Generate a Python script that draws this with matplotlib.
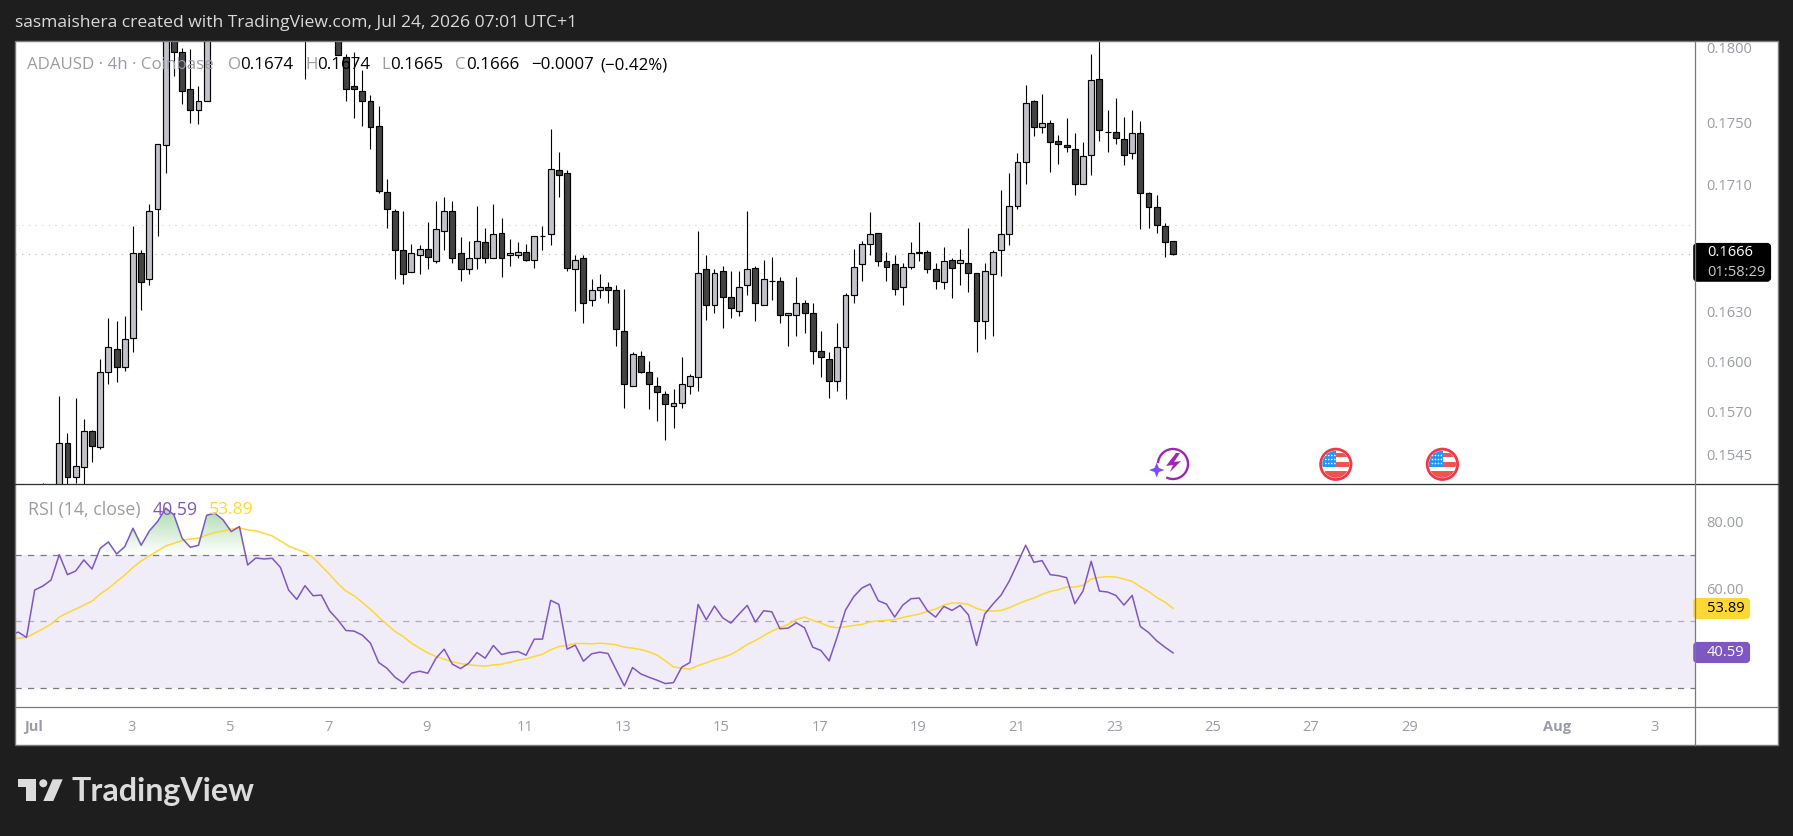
import numpy as np
import matplotlib
matplotlib.use('Agg')
import matplotlib.pyplot as plt
from matplotlib.colors import LinearSegmentedColormap
from matplotlib.patches import Circle, FancyBboxPatch, Polygon, Rectangle
from matplotlib.path import Path

plt.rcParams['font.family'] = ['Open Sans', 'DejaVu Sans']

# 4h candles, index 0 = Jul 1 (22..36 sit above the visible range, estimated)
opens = [.15050,.15100,.15150,.15207,.15514,.15322,.15375,.15584,.15491,.15933,
         .16071,.15967,.16138,.16661,.16499,.16938,.17350,.18185,.17966,.17719,
         .17580,.17639,.18160,.18250,.18150,.18200,.18340,.18230,.18180,.18250,
         .18190,.18140,.18220,.18160,.18220,.18150,.18190,.18170,.17933,.17739,
         .17706,.17639,.17474,.17047,.16926,.16680,.16546,.16648,.16686,.16615,
         .16799,.16926,.16661,.16561,.16634,.16730,.16634,.16786,.16648,.16648,
         .16667,.16617,.16767,.16780,.17188,.17169,.16561,.16629,.16370,.16431,
         .16450,.16431,.16180,.15850,.16029,.15933,.15850,.15802,.15731,.15749,
         .15850,.15903,.16561,.16339,.16549,.16388,.16302,.16462,.16567,.16339,
         .16489,.16487,.16278,.16278,.16351,.16290,.16059,.16011,.15880,.16083,
         .16400,.16592,.16717,.16786,.16611,.16592,.16450,.16579,.16661,.16667,
         .16561,.16481,.16617,.16598,.16598,.16536,.16241,.16530,.16680,.16780,
         .16958,.17240,.17639,.17468,.17494,.17376,.17350,.17324,.17098,.17285,
         .17785,.17437,.17435,.17389,.17298,.17428,.17040,.16951,.16835,.1674]
highs = [.15200,.15283,.15240,.15792,.15573,.15778,.15657,.15592,.16011,.16259,
         .16243,.16274,.16832,.16682,.16972,.17357,.18230,.18250,.17993,.17989,
         .17741,.18220,.18300,.18320,.18260,.18380,.18400,.18330,.18290,.18350,
         .18300,.18260,.18330,.18280,.18300,.18250,.18300,.18240,.17953,.17968,
         .17848,.17679,.17606,.17132,.16941,.16926,.16719,.16713,.16858,.16991,
         .17017,.16991,.16763,.16738,.16960,.16820,.16972,.16883,.16751,.16732,
         .16719,.16767,.16832,.17457,.17307,.17188,.16650,.16650,.16501,.16532,
         .16483,.16462,.16439,.16053,.16061,.16001,.15905,.15822,.15834,.16025,
         .15921,.16801,.16650,.16563,.16582,.16551,.16551,.16928,.16580,.16619,
         .16638,.16514,.16295,.16514,.16372,.16353,.16182,.16055,.16231,.16415,
         .16688,.16738,.16922,.16790,.16669,.16650,.16600,.16732,.16858,.16682,
         .16600,.16700,.16632,.16688,.16820,.16540,.16600,.16682,.17062,.17171,
         .17300,.17748,.17645,.17688,.17516,.17417,.17529,.17430,.17372,.17955,
         .18080,.17582,.17661,.17536,.17582,.17509,.17047,.17030,.16852,.1674]
lows = [.14950,.15000,.15000,.15150,.15207,.15287,.15250,.15406,.15483,.15864,
        .15876,.15941,.16055,.16310,.16464,.16769,.17171,.17808,.17622,.17496,
        .17490,.17639,.18100,.18120,.18090,.18120,.18180,.18110,.18090,.18150,
        .18100,.18080,.18120,.17785,.18110,.18070,.18110,.17946,.17644,.17529,
        .17476,.17326,.17043,.16820,.16501,.16470,.16546,.16532,.16563,.16602,
        .16682,.16602,.16489,.16532,.16563,.16602,.16634,.16514,.16582,.16632,
        .16615,.16569,.16682,.16713,.17017,.16553,.16304,.16231,.16335,.16384,
        .16351,.16091,.15721,.15850,.15927,.15715,.15645,.15534,.15604,.15721,
        .15804,.15822,.16249,.16290,.16200,.16261,.16274,.16402,.16243,.16339,
        .16372,.16231,.16091,.16152,.16170,.15983,.15905,.15780,.15822,.15774,
        .16353,.16489,.16650,.16582,.16489,.16402,.16341,.16563,.16613,.16538,
        .16439,.16439,.16384,.16464,.16421,.16055,.16134,.16152,.16520,.16713,
        .16941,.17100,.17411,.17430,.17177,.17229,.17307,.17030,.17098,.17158,
        .17378,.17307,.17359,.17222,.17261,.16813,.16820,.16788,.16638,.1665]
closes = [.15100,.15180,.15200,.15514,.15322,.15381,.15584,.15501,.15933,.16083,
          .15967,.16132,.16661,.16485,.16926,.17357,.18185,.17966,.17705,.17580,
          .17639,.18160,.18250,.18150,.18200,.18340,.18230,.18180,.18250,.18190,
          .18140,.18220,.18160,.18220,.18150,.18190,.18170,.17946,.17723,.17719,
          .17644,.17472,.17057,.16938,.16684,.16534,.16661,.16686,.16636,.16811,
          .16926,.16634,.16561,.16629,.16736,.16634,.16780,.16634,.16661,.16667,
          .16617,.16767,.16769,.17194,.17156,.16567,.16617,.16351,.16431,.16450,
          .16431,.16192,.15862,.16042,.15933,.15862,.15814,.15743,.15749,.15862,
          .15909,.16536,.16339,.16536,.16388,.16321,.16450,.16561,.16351,.16499,
          .16487,.16278,.16290,.16351,.16290,.16059,.16023,.15880,.16083,.16400,
          .16579,.16717,.16780,.16611,.16579,.16437,.16579,.16661,.16667,.16561,
          .16487,.16611,.16567,.16617,.16536,.16241,.16549,.16667,.16780,.16958,
          .17240,.17626,.17468,.17494,.17370,.17357,.17337,.17098,.17279,.17779,
          .17448,.17435,.17396,.17285,.17428,.17040,.16951,.16837,.16730,.1666]

# RSI and its moving average, starting three bars before index 0
rsi = [46.0,46.8,45.2,59.4,60.6,62.4,70.0,64.0,65.1,68.4,65.7,71.9,73.8,70.2,72.4,
       77.9,72.8,77.1,79.9,83.9,81.9,74.9,72.2,72.8,81.8,82.4,80.4,76.9,78.4,66.9,
       69.0,68.7,68.9,66.2,59.4,56.6,60.7,57.7,57.9,53.2,50.5,47.3,47.1,45.9,43.5,
       37.7,36.0,33.3,31.6,34.5,35.1,34.5,39.0,41.7,37.2,35.9,37.5,40.7,39.0,42.8,
       40.1,40.7,41.0,39.9,44.7,44.7,56.3,55.1,41.7,42.9,38.1,40.3,40.8,40.4,35.5,
       30.7,36.2,34.3,33.3,32.4,31.4,31.7,36.3,37.7,55.1,50.5,54.6,51.1,49.5,52.2,
       54.8,49.8,53.2,52.9,47.8,48.0,49.6,48.1,42.3,41.3,38.2,45.5,53.4,57.4,60.0,
       61.2,56.2,55.2,51.3,54.9,56.8,57.0,53.2,51.3,54.5,53.3,54.8,52.0,42.8,52.2,
       55.2,57.9,62.1,67.4,72.8,67.7,68.2,64.0,63.7,63.1,55.3,59.1,68.0,59.1,58.8,
       57.8,54.9,57.8,48.5,46.7,44.2,42.3,40.59]
rsi_ma = [45.0,45.0,45.2,46.5,47.8,49.2,51.3,52.6,53.7,54.9,56.1,58.2,59.9,61.9,63.9,
          66.2,68.1,69.6,71.1,72.6,73.4,74.2,74.7,74.9,75.9,76.6,77.1,77.6,78.0,77.4,
          77.1,76.4,75.6,74.1,72.6,71.6,70.7,69.1,66.6,64.1,61.4,59.1,57.7,55.7,53.6,
          51.3,49.1,47.0,45.5,43.5,42.0,40.6,39.5,38.7,37.9,37.4,37.0,36.8,36.6,37.0,
          37.2,37.8,38.4,38.8,39.5,40.2,41.5,42.5,42.8,43.4,43.4,43.3,43.5,43.3,43.0,
          42.3,42.0,41.6,40.9,39.9,38.2,36.4,36.0,35.7,36.8,37.6,38.5,39.2,40.1,41.5,
          43.1,44.3,45.7,47.1,48.2,49.1,50.6,51.3,50.3,49.5,48.5,48.1,48.4,48.8,49.1,
          49.9,50.2,50.3,50.6,51.2,51.7,52.2,53.0,53.7,54.9,55.5,55.5,55.1,53.9,53.2,
          53.1,53.3,54.1,55.2,56.2,57.0,58.1,59.0,59.5,60.3,60.3,60.8,62.7,63.2,63.4,
          63.3,62.7,62.0,60.4,59.0,57.2,55.8,53.89]

price_ticks = [0.1545, 0.1570, 0.1600, 0.1630, 0.1670, 0.1710, 0.1750, 0.1800]
rsi_ticks = [60, 80]
day_ticks = [1, 3, 5, 7, 9, 11, 13, 15, 17, 19, 21, 23, 25, 27, 29, 32, 34]
day_labels = ['Jul', '3', '5', '7', '9', '11', '13', '15', '17', '19', '21', '23',
              '25', '27', '29', 'Aug', '3']
last_price = 0.1666
prev_level = 0.1684

W, H = 1793, 836
BG = '#1e1e1e'
GREY = '#9a9ca6'
UP = '#c2c2ca'
DOWN = '#434343'
PURPLE = '#7e57c2'
YELLOW = '#fdd835'
LEFT, RIGHT, TOP, MID, BOT, END = 15, 1694.8, 41, 484.3, 707.3, 745.3
FAR = 1778


def box(x0, y0, x1, y1):
    return [x0 / W, 1 - y1 / H, (x1 - x0) / W, (y1 - y0) / H]


fig = plt.figure(figsize=(W / 100, H / 100), dpi=100, facecolor=BG)

under = fig.add_axes([0, 0, 1, 1], zorder=0)
under.set_xlim(0, W)
under.set_ylim(H, 0)
under.axis('off')
under.add_patch(Rectangle((LEFT, TOP), FAR - LEFT, END - TOP, fc='white', ec='none'))

# bar index <-> day mapping: 8.19 px per bar, bar 0 at x=34.7
xlim = (-2.405, 202.7)
tick_pos = [(d - 1) * 5.998 - 0.116 for d in day_ticks]

# price pane
ax = fig.add_axes(box(LEFT, TOP, RIGHT, MID), zorder=1)
ax.patch.set_alpha(0)
ax.set_yscale('log')
x = np.arange(len(opens))
o, h, l, c = map(np.array, (opens, highs, lows, closes))
ax.axhline(prev_level, color='#e6d96a', lw=0.8, ls=(0, (1, 5)), zorder=1)
ax.axhline(last_price, color='#b5b5b5', lw=0.8, ls=(0, (1, 5)), zorder=1)
ax.vlines(x, l, h, color='black', lw=0.8, zorder=2)
colors = [UP if b >= a else DOWN for a, b in zip(o, c)]
ax.bar(x, np.abs(c - o), bottom=np.minimum(o, c), width=0.72, color=colors,
       edgecolor='black', linewidth=0.85, zorder=3)
ax.set_xlim(*xlim)
ax.set_ylim(0.15278, 0.18043)
ax.set_xticks([])
ax.yaxis.tick_right()
ax.set_yticks(price_ticks)
ax.set_yticklabels([f'{t:.4f}' for t in price_ticks])
ax.minorticks_off()
ax.tick_params(axis='y', which='both', length=0, pad=8.5, labelsize=10.5, labelcolor=GREY)
for s in ax.spines.values():
    s.set_visible(False)

# RSI pane
ax2 = fig.add_axes(box(LEFT, MID, RIGHT, BOT), zorder=1)
ax2.patch.set_alpha(0)
xr = np.arange(len(rsi)) - 3
r = np.array(rsi)
ax2.axhspan(30, 70, color=PURPLE, alpha=0.1, lw=0, zorder=1)
ax2.axhline(70, color='#787b86', lw=0.9, ls=(0, (5, 5)), zorder=2)
ax2.axhline(50, color='#787b86', lw=0.9, ls=(0, (5, 5)), alpha=0.55, zorder=2)
ax2.axhline(30, color='#787b86', lw=0.9, ls=(0, (5, 5)), zorder=2)
# green fade above the 70 line
region = ax2.fill_between(xr, 70, r, where=r > 70, interpolate=True, facecolor='none', lw=0)
green = LinearSegmentedColormap.from_list('fade', [(0.3, 0.69, 0.31, 0.0), (0.3, 0.69, 0.31, 0.5)])
im = ax2.imshow(np.linspace(1, 0, 64).reshape(-1, 1), cmap=green, aspect='auto', zorder=2,
                extent=(xlim[0], xlim[1], 70, 85), vmin=0, vmax=1)
im.set_clip_path(Path.make_compound_path(*region.get_paths()), transform=ax2.transData)
ax2.plot(xr, rsi_ma, color=YELLOW, lw=1.1, zorder=3)
ax2.plot(xr, r, color=PURPLE, lw=1.1, zorder=4)
ax2.set_xlim(*xlim)
ax2.set_ylim(24.3, 91.05)
ax2.yaxis.tick_right()
ax2.set_yticks(rsi_ticks)
ax2.set_yticklabels([f'{t:.2f}' for t in rsi_ticks])
ax2.set_xticks(tick_pos)
ax2.set_xticklabels(day_labels)
ax2.tick_params(axis='y', length=0, pad=8.5, labelsize=10.5, labelcolor=GREY)
ax2.tick_params(axis='x', length=0, pad=9, labelsize=10.5, labelcolor=GREY)
for lab in ax2.get_xticklabels():
    if lab.get_text() in ('Jul', 'Aug'):
        lab.set_fontweight('bold')
for s in ax2.spines.values():
    s.set_visible(False)

# frame, tags, legends, icons on top, in pixel coordinates
top = fig.add_axes([0, 0, 1, 1], zorder=5)
top.set_xlim(0, W)
top.set_ylim(H, 0)
top.axis('off')
top.patch.set_alpha(0)
top.add_patch(Rectangle((LEFT, TOP), FAR - LEFT, END - TOP, fc='none', ec='#7a7a7a', lw=1))
top.plot([LEFT, FAR], [MID, MID], color='#2a2e39', lw=0.9)
top.plot([LEFT, FAR], [BOT, BOT], color='#7a7a7a', lw=0.9)
top.plot([RIGHT, RIGHT], [TOP, END], color='#7a7a7a', lw=0.9)

top.text(14.7, 23, 'sasmaishera created with TradingView.com, Jul 24, 2026 07:01 UTC+1',
         color='#d9d9d9', fontsize=12.6, va='center')

# OHLC legend row
legend_row = [(27, 'ADAUSD · 4h · Coinbase', GREY), (227.7, 'O', GREY), (240, '0.1674', 'black'),
              (305, 'H', GREY), (316.7, '0.1674', 'black'), (381, 'L', GREY), (390, '0.1665', 'black'),
              (455, 'C', GREY), (466, '0.1666', 'black'), (530.7, '−0.0007', 'black'),
              (600, '(−0.42%)', 'black')]
for px, s, col in legend_row:
    top.text(px, 65, s, color=col, fontsize=12.2, va='center')

top.text(27.5, 510, 'RSI (14, close)', color=GREY, fontsize=12.8, va='center')
top.text(153, 510, '40.59', color=PURPLE, fontsize=12.8, va='center')
top.text(208.6, 510, '53.89', color=YELLOW, fontsize=12.6, va='center')


def tag(y0, y1, x1, col):
    top.add_patch(FancyBboxPatch((RIGHT + 0.5, y0 + 2), x1 - RIGHT - 2.5, y1 - y0 - 4,
                                 boxstyle='round,pad=0,rounding_size=2', mutation_aspect=1,
                                 fc=col, ec=col, lw=3))


tag(243, 281.7, 1771, 'black')
top.text(1707, 253, '0.1666', color='white', fontsize=10.5, va='center')
top.text(1707, 272, '01:58:29', color='#c8c8c8', fontsize=10.5, va='center')
tag(598, 619, 1750, YELLOW)
top.text(1707, 608.5, '53.89', color='black', fontsize=10.5, va='center')
tag(642, 663, 1750, PURPLE)
top.text(1707, 652.5, '40.59', color='white', fontsize=10.5, va='center')

# lightning icon with the star in the ring's gap
cx, cy = 1173, 464
ang = np.radians(np.linspace(-112, 172, 120))
top.plot(cx + 15 * np.cos(ang), cy - 15 * np.sin(ang), color='#9c27b0', lw=1.7)
top.add_patch(Polygon([(cx + 3, cy - 11), (cx - 7, cy + 2), (cx, cy + 1), (cx - 3, cy + 8),
                       (cx + 8, cy - 3), (cx + 1, cy - 2), (cx + 7, cy - 11)], fc='#9c27b0', ec='none'))
top.add_patch(Polygon([(1149, 470), (1154.5, 468), (1156.7, 462.5), (1158.9, 468), (1164.5, 470),
                       (1158.9, 472), (1156.7, 477.5), (1154.5, 472)], fc='#7c4dff', ec='none'))

# US flag markers
for cx in (1335.8, 1442.4):
    disc = Circle((cx, 464.3), 13.5, transform=top.transData)
    top.add_patch(Circle((cx, 464.3), 15.2, fc='white', ec='#f23645', lw=2))
    for y0, hh in ((453, 4), (462, 5), (471, 8)):
        p = Rectangle((cx - 11, y0), 26, hh, fc='#f05350', ec='none')
        top.add_patch(p)
        p.set_clip_path(disc)
    p = Rectangle((cx - 14, 451), 14.5, 16, fc='#2196f3', ec='none')
    top.add_patch(p)
    p.set_clip_path(disc)
    for row in range(3):
        for col in range(4):
            top.add_patch(Circle((cx - 10 + col * 3, 455.5 + row * 4), 0.8, fc='white', ec='none'))

# watermark
LOGO = '#dcdcdc'
top.add_patch(Polygon([(18, 779.3), (35.7, 779.3), (35.7, 801), (26.3, 801), (26.3, 786.7), (18, 786.7)],
                      fc=LOGO, ec='none'))
top.add_patch(Circle((43.3, 783.3), 4, fc=LOGO, ec='none'))
top.add_patch(Polygon([(52.7, 779.3), (62.7, 779.3), (53.3, 801), (43.3, 801)], fc=LOGO, ec='none'))
top.text(72, 801, 'TradingView', color=LOGO, fontsize=23.2, va='baseline',
         family=['Lato', 'DejaVu Sans'], fontweight='bold')

fig.savefig('out.png', dpi=100, facecolor=BG)
